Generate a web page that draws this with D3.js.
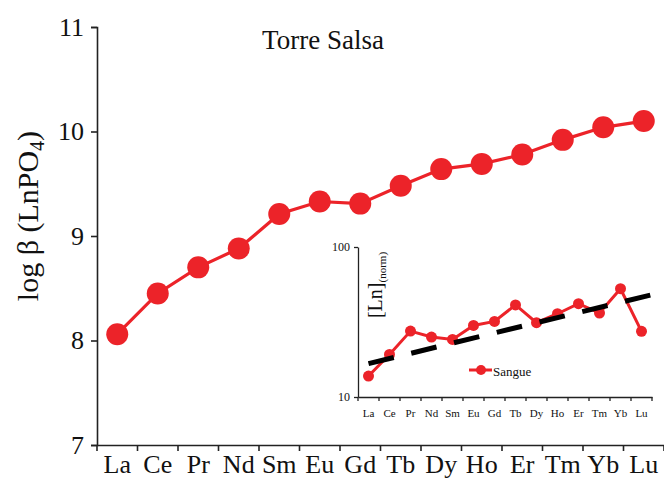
<!DOCTYPE html>
<html>
<head>
<meta charset="utf-8">
<script src="https://cdn.jsdelivr.net/npm/d3@7"></script>
<style>
  html, body { margin: 0; padding: 0; background: #fff; }
  svg { display: block; }
  text { font-family: "Liberation Serif", "Times New Roman", serif; fill: #111; }
</style>
</head>
<body>
<svg id="chart" width="664" height="479"></svg>
<script>
// ---- data ----
const categories = ["La","Ce","Pr","Nd","Sm","Eu","Gd","Tb","Dy","Ho","Er","Tm","Yb","Lu"];
const logBeta = [8.06, 8.45, 8.70, 8.88, 9.21, 9.33, 9.31, 9.48, 9.64, 9.69, 9.78, 9.92, 10.04, 10.10];
const yTicksMain = [7, 8, 9, 10, 11];
const sangue = [13.8, 19.2, 27.5, 25.1, 24.2, 30.0, 31.9, 41.1, 31.3, 35.9, 41.9, 36.3, 52.7, 27.4];
const trendIndex = [0, 13.6];
const trendValues = [16.7, 48.5];
const yTicksInset = [10, 100];
const titleText = "Torre Salsa";
const legendLabel = "Sangue";

const RED = "#ec2329";
const svg = d3.select("#chart");

// ---- main chart ----
const xMain = d3.scaleBand().domain(categories).range([97, 664]).padding(0);
const yMain = d3.scaleLinear().domain([7, 11]).range([445, 27]);

const gy = svg.append("g").attr("transform", "translate(97,0)")
  .call(d3.axisLeft(yMain).tickValues(yTicksMain).tickFormat(d3.format("d")).tickSize(6).tickPadding(7));
gy.select(".domain").attr("stroke", "#222").attr("stroke-width", 1.6);
gy.selectAll(".tick line").attr("stroke", "#222").attr("stroke-width", 1.6);
gy.selectAll("text").style("font-size", "26px").attr("fill", "#111");

const gx = svg.append("g").attr("transform", "translate(0,445)")
  .call(d3.axisBottom(xMain).tickSize(0).tickPadding(0).tickSizeOuter(0));
gx.select(".domain").attr("stroke", "#222").attr("stroke-width", 1.6);
gx.selectAll("text").style("font-size", "26px").attr("fill", "#111").attr("y", 28).attr("dy", 0);
gx.selectAll(".bnd").data(categories.map(c => xMain(c)).concat([xMain.range()[1]]))
  .enter().append("line").attr("class", "bnd")
  .attr("x1", d => d).attr("x2", d => d).attr("y1", 0).attr("y2", 6)
  .attr("stroke", "#222").attr("stroke-width", 1.6);

// y title
const yt = svg.append("text")
  .attr("transform", "translate(38,216) rotate(-90)")
  .attr("text-anchor", "middle")
  .style("font-size", "30px");
yt.append("tspan").text("log β (LnPO");
yt.append("tspan").text("4").style("font-size", "20px").attr("dy", 6);
yt.append("tspan").text(")").attr("dy", -6);

// title
svg.append("text").attr("x", 323).attr("y", 49).attr("text-anchor", "middle")
  .style("font-size", "27px").text(titleText);

const cx = c => xMain(c) + xMain.bandwidth() / 2;
svg.append("path")
  .datum(logBeta)
  .attr("fill", "none").attr("stroke", RED).attr("stroke-width", 3.2)
  .attr("d", d3.line().x((d, i) => cx(categories[i])).y(d => yMain(d)));
svg.selectAll(".mpt").data(logBeta).enter().append("circle")
  .attr("class", "mpt")
  .attr("cx", (d, i) => cx(categories[i])).attr("cy", d => yMain(d))
  .attr("r", 11).attr("fill", RED);

// ---- inset ----
const xIn = d3.scaleBand().domain(categories).range([358, 652]).padding(0);
const yIn = d3.scaleLog().domain([10, 100]).range([397, 247]);
const cxIn = c => xIn(c) + xIn.bandwidth() / 2;

const iy = svg.append("g").attr("transform", "translate(358,0)")
  .call(d3.axisLeft(yIn).tickValues(yTicksInset).tickFormat(d3.format("d")).tickSize(4).tickPadding(4).tickSizeOuter(0));
iy.select(".domain").attr("stroke", "#222").attr("stroke-width", 1.3);
iy.selectAll(".tick line").attr("stroke", "#222").attr("stroke-width", 1.3);
iy.selectAll("text").style("font-size", "12px").attr("fill", "#111");

const ix = svg.append("g").attr("transform", "translate(0,397)")
  .call(d3.axisBottom(xIn).tickSize(0).tickPadding(0).tickSizeOuter(0));
ix.select(".domain").attr("stroke", "#222").attr("stroke-width", 1.3);
ix.selectAll("text").style("font-size", "11px").attr("fill", "#111").attr("y", 20).attr("dy", 0);
ix.selectAll(".bnd").data(categories.map(c => xIn(c)).concat([xIn.range()[1]]))
  .enter().append("line").attr("class", "bnd")
  .attr("x1", d => d).attr("x2", d => d).attr("y1", 0).attr("y2", 4)
  .attr("stroke", "#222").attr("stroke-width", 1.3);

// inset y title
const iyt = svg.append("text")
  .attr("transform", "translate(382,285) rotate(-90)")
  .attr("text-anchor", "middle")
  .style("font-size", "20px");
iyt.append("tspan").text("[Ln]");
iyt.append("tspan").text("(norm)").style("font-size", "11px").attr("dy", 4);

// inset series
svg.append("path")
  .datum(sangue)
  .attr("fill", "none").attr("stroke", RED).attr("stroke-width", 3)
  .attr("d", d3.line().x((d, i) => cxIn(categories[i])).y(d => yIn(d)));
svg.selectAll(".ipt").data(sangue).enter().append("circle")
  .attr("class", "ipt")
  .attr("cx", (d, i) => cxIn(categories[i])).attr("cy", d => yIn(d))
  .attr("r", 5.5).attr("fill", RED);

// trend line
const xIdx = d3.scaleLinear().domain([0, 13]).range([cxIn(categories[0]), cxIn(categories[13])]);
svg.append("path")
  .datum(trendIndex.map((t, i) => [t, trendValues[i]]))
  .attr("fill", "none").attr("stroke", "#000").attr("stroke-width", 5)
  .attr("stroke-dasharray", "26,18")
  .attr("d", d3.line().x(d => xIdx(d[0])).y(d => yIn(d[1])));

// legend
svg.append("line").attr("x1", 469).attr("x2", 492).attr("y1", 370).attr("y2", 370)
  .attr("stroke", RED).attr("stroke-width", 3);
svg.append("circle").attr("cx", 481).attr("cy", 370).attr("r", 5).attr("fill", RED);
svg.append("text").attr("x", 493).attr("y", 376).style("font-size", "13px").text(legendLabel);
</script>
</body>
</html>
